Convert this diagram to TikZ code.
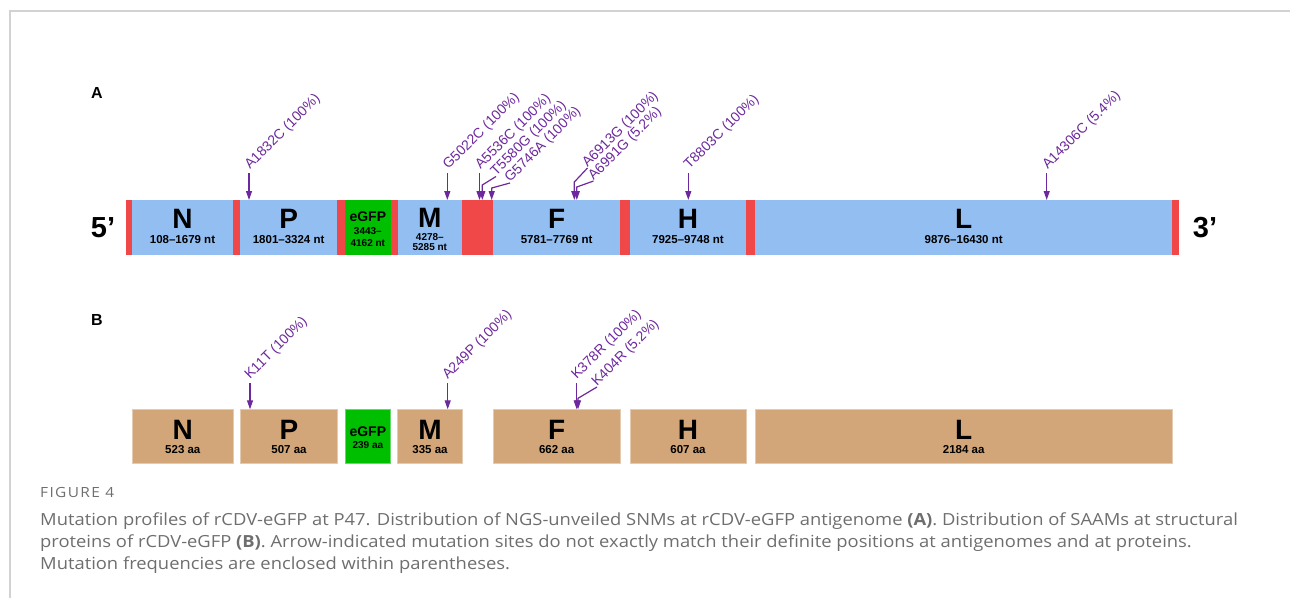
\documentclass[tikz,border=0pt]{standalone}
\usepackage{fontspec}
\setmainfont{Liberation Sans}
\newfontfamily\capfont[FakeStretch=1.1]{Open Sans}
\usetikzlibrary{positioning, arrows.meta, calc}

\definecolor{segred}{RGB}{240,72,72}
\definecolor{segblue}{RGB}{146,190,242}
\definecolor{gfpgreen}{RGB}{0,190,0}
\definecolor{boxtan}{RGB}{210,166,121}
\definecolor{mutpurple}{RGB}{108,40,156}
\definecolor{capgray}{RGB}{110,110,110}
\definecolor{framegray}{RGB}{210,210,210}

\begin{document}
\begin{tikzpicture}[x=1pt, y=-1pt,
  seg/.style={inner sep=0pt, outer sep=0pt, minimum height=55pt, fill=segblue},
  pbox/.style={inner sep=0pt, outer sep=0pt, minimum height=54pt, fill=boxtan, draw=boxtan!60!white, line width=0.8pt},
  gname/.style={anchor=base, inner sep=0pt, font=\bfseries\fontsize{28}{28}\selectfont},
  gsub/.style={anchor=base, inner sep=0pt, font=\bfseries\fontsize{11.5}{12}\selectfont},
  gsmall/.style={anchor=base, inner sep=0pt, font=\bfseries\fontsize{10}{11}\selectfont},
  mlbl/.style={anchor=base west, rotate=45, inner sep=0pt, text=mutpurple, font=\fontsize{14}{14}\selectfont},
  mut/.style={draw=mutpurple, line width=1.2pt, -{Triangle[width=6pt, length=9pt]}}
]
  \useasboundingbox (0,0) rectangle (1290,598);
  \draw[framegray, line width=1.5pt] (10,598) -- (10,11) -- (1290,11);

  % A: genome
  \node[font=\bfseries\fontsize{16}{16}\selectfont] (pA) at (97,93) {A};
  \node[font=\bfseries\fontsize{29}{29}\selectfont] (five) at (103,228) {5’};
  \node[font=\bfseries\fontsize{29}{29}\selectfont] (three) at (1205,228) {3’};
  \node[seg, fill=segred, minimum width=1053.6] (genome) at (652.5,227.5) {};
  \foreach \g/\xa/\xb/\rng in {N/132.3/232.7/108--1679 nt, P/240/337.3/1801--3324 nt,
      F/493.3/620/5781--7769 nt, H/630/746/7925--9748 nt, L/755/1172.3/9876--16430 nt} {
    \node[seg, minimum width={\xb-\xa}] (\g) at ({(\xa+\xb)/2},227.5) {};
    \node[gname] (\g-name) at ({(\xa+\xb)/2},228.3) {\g};
    \node[gsub] (\g-nt) at ({(\xa+\xb)/2},243.3) {\rng};
  }
  \node[seg, minimum width=64.3] (M) at (429.85,227.5) {};
  \node[gname] (M-name) at (429.85,227.3) {M};
  \node[gsmall] (M-nt1) at (429.85,240) {4278--};
  \node[gsmall] (M-nt2) at (429.85,250.5) {5285 nt};
  \node[seg, fill=gfpgreen, minimum width=45.7] (eGFP) at (367.85,227.5) {};
  \node[gname, font=\bfseries\fontsize{14}{14}\selectfont] (eGFP-name) at (367.85,221.7) {eGFP};
  \node[gsmall] (eGFP-nt1) at (367.85,234) {3443--};
  \node[gsmall] (eGFP-nt2) at (367.85,246) {4162 nt};

  % A: mutations
  \foreach \x/\m/\txt in {249/a1832/A1832C (100\%), 447.3/g5022/G5022C (100\%),
      479.5/a5536/A5536C (100\%), 688.3/t8803/T8803C (100\%), 1046.7/a14306/A14306C (5.4\%)} {
    \coordinate (\m) at (\x,200);
    \node[mlbl] (\m-lbl) at (\x+1,170) {\txt};
    \draw[mut] ([yshift=27pt]\m) -- (\m);
  }
  \coordinate (t5580) at (482.3,200);
  \coordinate (g5746) at (491.7,200);
  \coordinate (a6913) at (574.3,200);
  \coordinate (a6991) at (576.8,200);
  \node[mlbl] (t5580-lbl) at (496,176.5) {T5580G (100\%)};
  \node[mlbl] (g5746-lbl) at (510,183) {G5746A (100\%)};
  \node[mlbl] (a6913-lbl) at (587.5,168) {A6913G (100\%)};
  \node[mlbl] (a6991-lbl) at (593.5,181) {A6991G (5.2\%)};
  \draw[mut] (t5580-lbl.base west) -- ([yshift=15pt]t5580) -- (t5580);
  \draw[mut] (g5746-lbl.base west) -- ([yshift=12pt]g5746) -- (g5746);
  \draw[mut] (a6913-lbl.base west) -- ([yshift=18pt]a6913) -- (a6913);
  \draw[mut] (a6991-lbl.base west) -- ([yshift=13pt]a6991) -- (a6991);

  % B: proteins
  \node[font=\bfseries\fontsize{16}{16}\selectfont] (pB) at (97,320) {B};
  \foreach \g/\xa/\xb/\aa in {N/132.3/233.3/523 aa, P/240.7/337.3/507 aa, M/397.7/462.3/335 aa,
      F/493.3/620/662 aa, H/630/746/607 aa, L/755/1172.3/2184 aa} {
    \node[pbox, minimum width={\xb-\xa}] (b\g) at ({(\xa+\xb)/2},436.3) {};
    \node[gname] (b\g-name) at ({(\xa+\xb)/2},439.3) {\g};
    \node[gsub] (b\g-aa) at ({(\xa+\xb)/2},453.3) {\aa};
  }
  \node[pbox, fill=gfpgreen, draw=gfpgreen!60!white, minimum width=45.7] (beGFP) at (367.85,436.3) {};
  \node[gname, font=\bfseries\fontsize{14}{14}\selectfont] (beGFP-name) at (367.85,436.7) {eGFP};
  \node[gsmall] (beGFP-aa) at (367.85,448.3) {239 aa};

  % B: mutations
  \foreach \x/\m/\txt in {250/k11/K11T (100\%), 447.7/a249/A249P (100\%), 576.7/k378/K378R (100\%)} {
    \coordinate (\m) at (\x,409.3);
    \node[mlbl] (\m-lbl) at (\x,380) {\txt};
    \draw[mut] ([yshift=26pt]\m) -- (\m);
  }
  \coordinate (k404) at (578,409.3);
  \node[mlbl] (k404-lbl) at (597,387) {K404R (5.2\%)};
  \draw[mut] (k404-lbl.base west) -- ([yshift=11pt]k404) -- (k404);

  % caption
  \node[anchor=base west, inner sep=0pt, text=capgray, font=\capfont\addfontfeature{LetterSpace=10}\fontsize{14}{14}\selectfont] (fig) at (40,497) {FIGURE 4};
  \begin{scope}[every node/.style={anchor=base west, inner sep=0pt, text=capgray, font=\capfont\fontsize{16.7}{16.7}\selectfont}]
    \node (cap1) at (40,525) {Mutation profiles of rCDV-eGFP at P47. Distribution of NGS-unveiled SNMs at rCDV-eGFP antigenome \textbf{(A)}. Distribution of SAAMs at structural};
    \node (cap2) at (40,547) {proteins of rCDV-eGFP \textbf{(B)}. Arrow-indicated mutation sites do not exactly match their definite positions at antigenomes and at proteins.};
    \node (cap3) at (40,569) {Mutation frequencies are enclosed within parentheses.};
  \end{scope}
\end{tikzpicture}
\end{document}
